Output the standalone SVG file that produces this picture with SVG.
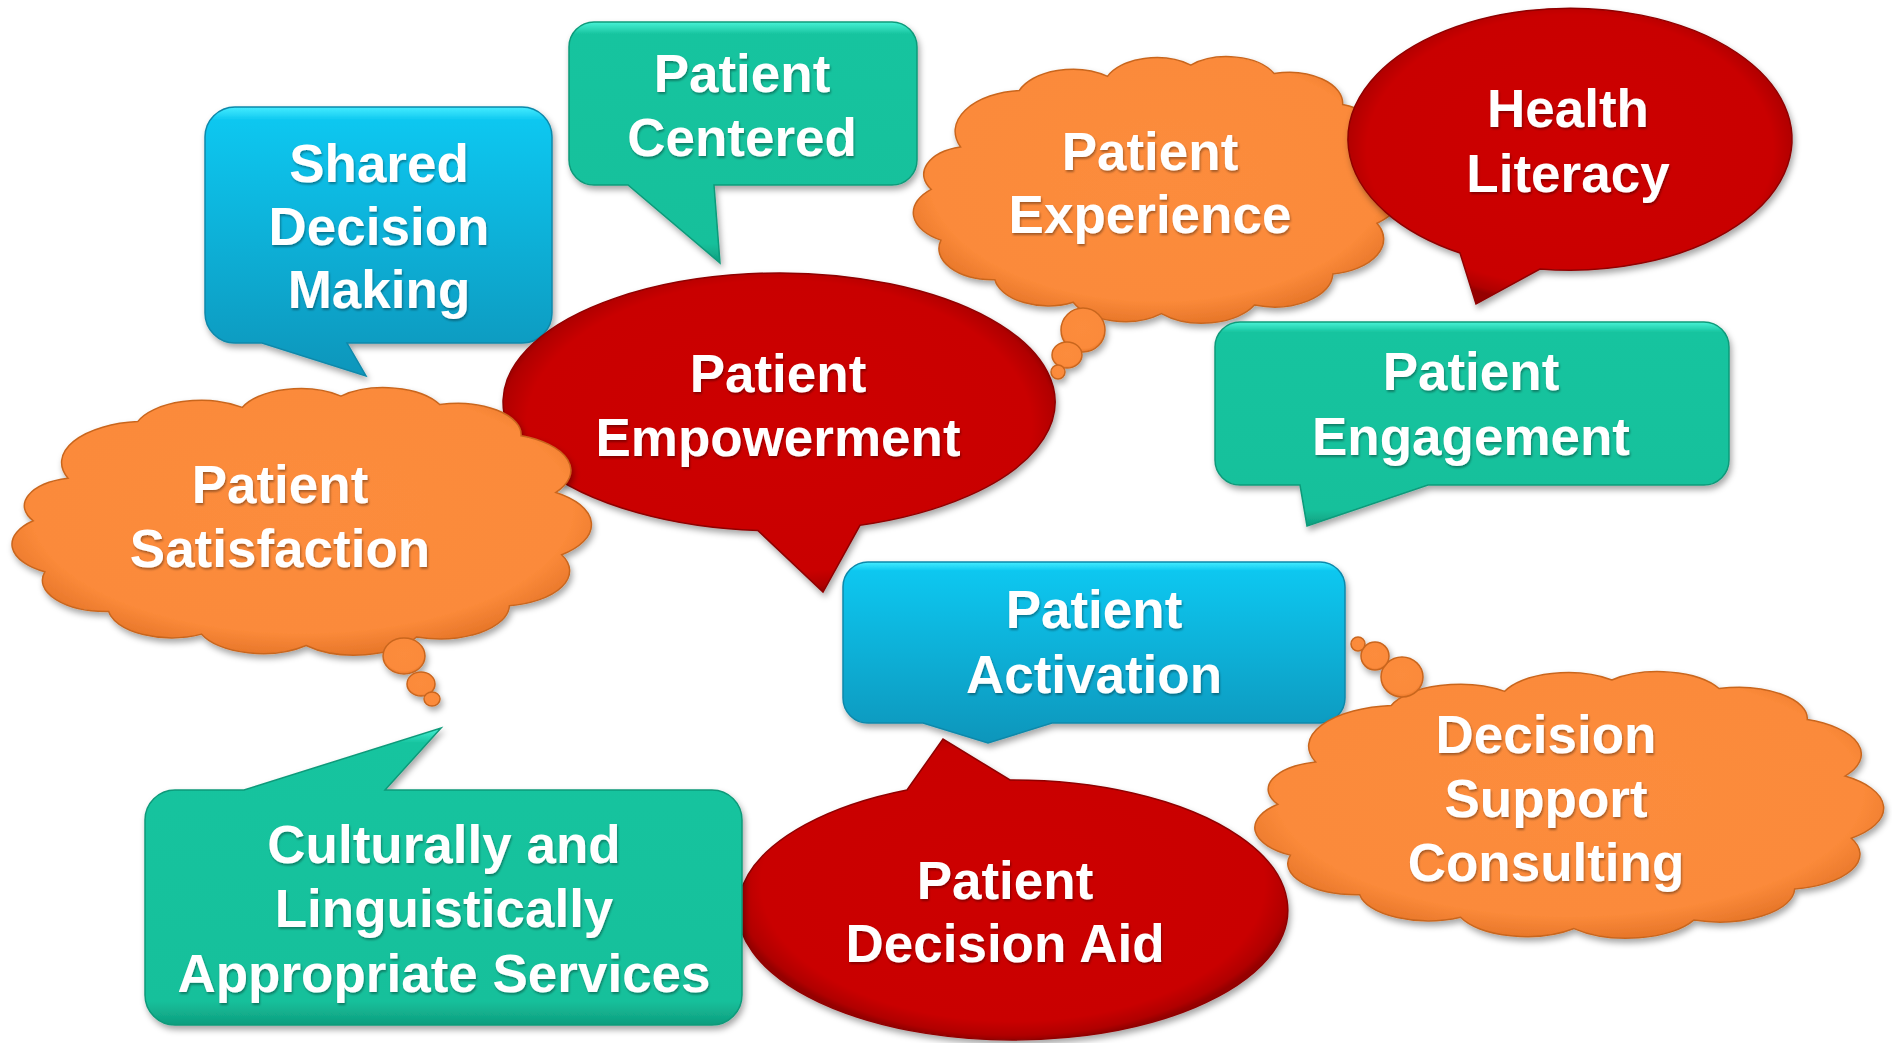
<svg xmlns="http://www.w3.org/2000/svg" xmlns:xlink="http://www.w3.org/1999/xlink" width="1892" height="1043" viewBox="0 0 1892 1043">
<style>
  .lbl { font-family: "Liberation Sans", Arial, sans-serif; font-weight: bold; font-size: 53px; fill: #ffffff; text-anchor: middle; }
  .blue { fill: url(#gBlue); stroke: #0a88aa; stroke-width: 1.5; }
  .green { fill: url(#gGreen); stroke: #0e9a7a; stroke-width: 1.5; }
  .red { fill: url(#gRed); stroke: #8f0000; stroke-width: 1.5; }
  .orange { fill: url(#gOrange); stroke: #c9661f; stroke-width: 1.5; }
</style>
<defs>
  <filter id="shadow" x="-10%" y="-10%" width="125%" height="130%">
    <feDropShadow dx="2" dy="4" stdDeviation="3" flood-color="#000" flood-opacity="0.35"/>
  </filter>
  <filter id="tshadow" x="-5%" y="-10%" width="110%" height="130%">
    <feDropShadow dx="1" dy="2" stdDeviation="1" flood-color="#000" flood-opacity="0.35"/>
  </filter>
  <linearGradient id="gBlue" x1="0" y1="0" x2="0" y2="1">
    <stop offset="0" stop-color="#45ecff"/>
    <stop offset="0.05" stop-color="#0cc7f0"/>
    <stop offset="1" stop-color="#0996bb"/>
  </linearGradient>
  <linearGradient id="gGreen" x1="0" y1="0" x2="0" y2="1">
    <stop offset="0" stop-color="#48f2d6"/>
    <stop offset="0.05" stop-color="#17c49f"/>
    <stop offset="0.92" stop-color="#15c09b"/>
    <stop offset="1" stop-color="#0f9d7e"/>
  </linearGradient>
  <radialGradient id="gRed" cx="0.5" cy="0.48" r="0.52">
    <stop offset="0" stop-color="#cd0606"/>
    <stop offset="0.88" stop-color="#c90505"/>
    <stop offset="0.97" stop-color="#b00202"/>
    <stop offset="1" stop-color="#960000"/>
  </radialGradient>
  <radialGradient id="gOrange" cx="0.5" cy="0.45" r="0.55">
    <stop offset="0" stop-color="#fc8c3c"/>
    <stop offset="0.85" stop-color="#fb8a3a"/>
    <stop offset="1" stop-color="#e8772a"/>
  </radialGradient>
  <path id="cloud" vector-effect="non-scaling-stroke" d="M10,35 A14.5,14.5 0 0 1 22,15 A11.6,11.6 0 0 1 40,10 A10.8,10.8 0 0 1 57,6 A10.7,10.7 0 0 1 74,9 A11,11 0 0 1 88,20 A13,13 0 0 1 94,40 A13.6,13.6 0 0 1 95,62 A12.5,12.5 0 0 1 86,80 A12,12 0 0 1 70,91 A12,12 0 0 1 51,94 A11.4,11.4 0 0 1 33,90 A11,11 0 0 1 17,82 A11,11 0 0 1 6,68 A11.2,11.2 0 0 1 4,50 A10,10 0 0 1 10,35 Z"/>
</defs>
<rect width="1892" height="1043" fill="#ffffff"/>

<g id="connectors"></g>

<g id="node-shared-decision-making">
  <path class="blue" filter="url(#shadow)" d="M235,107 H522 A30,30 0 0 1 552,137 V313 A30,30 0 0 1 522,343 H347 L366,376 L262,343 H235 A30,30 0 0 1 205,313 V137 A30,30 0 0 1 235,107 Z"/>
  <g class="lbl" filter="url(#tshadow)">
    <text x="379" y="182">Shared</text>
    <text x="379" y="245">Decision</text>
    <text x="379" y="308">Making</text>
  </g>
</g>

<g id="node-patient-centered">
  <path class="green" filter="url(#shadow)" d="M594,22 H892 A25,25 0 0 1 917,47 V160 A25,25 0 0 1 892,185 H714 L720,263 L628,185 H594 A25,25 0 0 1 569,160 V47 A25,25 0 0 1 594,22 Z"/>
  <g class="lbl" filter="url(#tshadow)">
    <text x="742" y="92">Patient</text>
    <text x="742" y="156">Centered</text>
  </g>
</g>

<g id="node-patient-empowerment">
  <path class="red" filter="url(#shadow)" d="M758,530.6 A276,129 0 1 1 860,525.3 L823,592 Z"/>
  <g class="lbl" filter="url(#tshadow)">
    <text x="778" y="392">Patient</text>
    <text x="778" y="456">Empowerment</text>
  </g>
</g>

<g id="node-patient-satisfaction">
  <g filter="url(#shadow)">
    <use href="#cloud" class="orange" transform="translate(14 389) scale(5.808 2.834) translate(-0.7 -3.5)"/>
    <ellipse class="orange" cx="404" cy="656" rx="21" ry="18"/>
    <ellipse class="orange" cx="421" cy="684" rx="14" ry="12"/>
    <ellipse class="orange" cx="432" cy="699" rx="8" ry="7"/>
  </g>
  <g class="lbl" filter="url(#tshadow)">
    <text x="280" y="503">Patient</text>
    <text x="280" y="567">Satisfaction</text>
  </g>
</g>

<g id="node-patient-experience">
  <g filter="url(#shadow)">
    <use href="#cloud" class="orange" transform="translate(915 58) scale(4.899 2.824) translate(-0.7 -3.5)"/>
    <ellipse class="orange" cx="1083" cy="330" rx="22" ry="22"/>
    <ellipse class="orange" cx="1067" cy="355" rx="15" ry="13"/>
    <ellipse class="orange" cx="1058" cy="372" rx="7" ry="7"/>
  </g>
  <g class="lbl" filter="url(#tshadow)">
    <text x="1150" y="170">Patient</text>
    <text x="1150" y="233">Experience</text>
  </g>
</g>

<g id="node-health-literacy">
  <path class="red" filter="url(#shadow)" d="M1460,253 A222,131 0 1 1 1540,269 L1476,304 Z"/>
  <g class="lbl" filter="url(#tshadow)">
    <text x="1568" y="127">Health</text>
    <text x="1568" y="192">Literacy</text>
  </g>
</g>

<g id="node-patient-engagement">
  <path class="green" filter="url(#shadow)" d="M1240,322 H1704 A25,25 0 0 1 1729,347 V460 A25,25 0 0 1 1704,485 H1428 L1307,526 L1300,485 H1240 A25,25 0 0 1 1215,460 V347 A25,25 0 0 1 1240,322 Z"/>
  <g class="lbl" filter="url(#tshadow)">
    <text x="1471" y="390">Patient</text>
    <text x="1471" y="455">Engagement</text>
  </g>
</g>

<g id="node-patient-activation">
  <path class="blue" filter="url(#shadow)" d="M868,562 H1320 A25,25 0 0 1 1345,587 V698 A25,25 0 0 1 1320,723 H1052 L988,743 L923,723 H868 A25,25 0 0 1 843,698 V587 A25,25 0 0 1 868,562 Z"/>
  <g class="lbl" filter="url(#tshadow)">
    <text x="1094" y="628">Patient</text>
    <text x="1094" y="693">Activation</text>
  </g>
</g>

<g id="node-patient-decision-aid">
  <path class="red" filter="url(#shadow)" d="M1010,780 A275,130 0 1 1 907,790 L943,739 Z"/>
  <g class="lbl" filter="url(#tshadow)">
    <text x="1005" y="899">Patient</text>
    <text x="1005" y="962">Decision Aid</text>
  </g>
</g>

<g id="node-culturally-linguistically">
  <path class="green" filter="url(#shadow)" d="M175,790 H244 L441,728 L385,790 H712 A30,30 0 0 1 742,820 V995 A30,30 0 0 1 712,1025 H175 A30,30 0 0 1 145,995 V820 A30,30 0 0 1 175,790 Z"/>
  <g class="lbl" filter="url(#tshadow)">
    <text x="444" y="863">Culturally and</text>
    <text x="444" y="927">Linguistically</text>
    <text x="444" y="992">Appropriate Services</text>
  </g>
</g>

<g id="node-decision-support-consulting">
  <g filter="url(#shadow)">
    <use href="#cloud" class="orange" transform="translate(1257 673) scale(6.303 2.824) translate(-0.7 -3.5)"/>
    <ellipse class="orange" cx="1402" cy="677" rx="21" ry="20"/>
    <ellipse class="orange" cx="1375" cy="656" rx="14" ry="14"/>
    <ellipse class="orange" cx="1358" cy="644" rx="7" ry="7"/>
  </g>
  <g class="lbl" filter="url(#tshadow)">
    <text x="1546" y="753">Decision</text>
    <text x="1546" y="817">Support</text>
    <text x="1546" y="881">Consulting</text>
  </g>
</g>
</svg>
